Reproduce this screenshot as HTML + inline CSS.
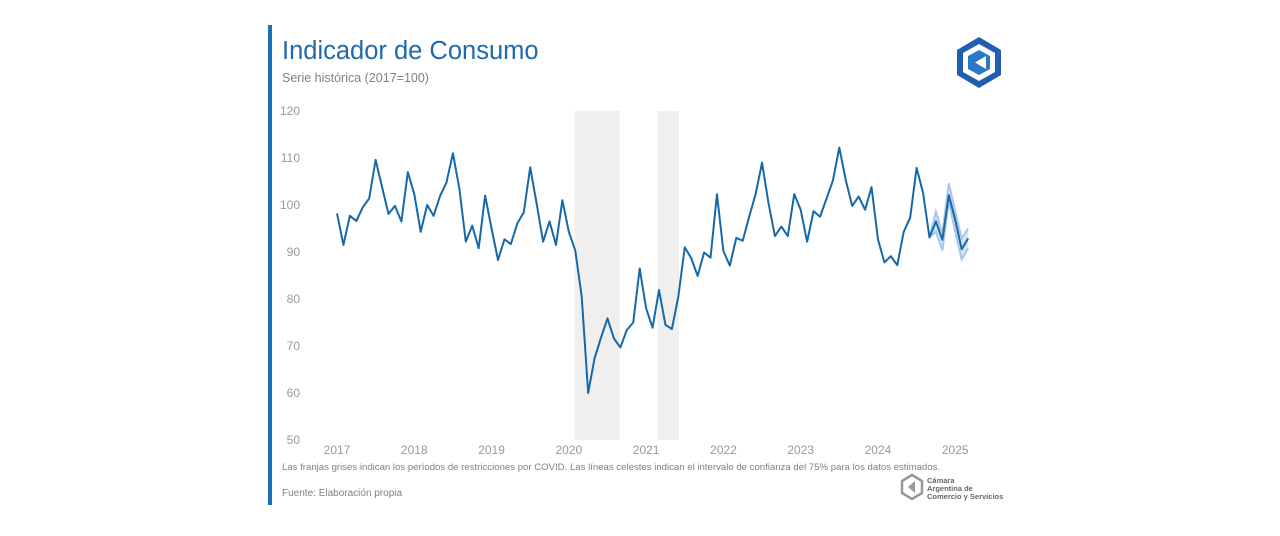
<!DOCTYPE html>
<html><head><meta charset="utf-8">
<style>
body{margin:0;background:#fff;width:1280px;height:531px;overflow:hidden;font-family:"Liberation Sans",sans-serif;}
svg text{font-family:"Liberation Sans",sans-serif;}
</style></head>
<body>
<svg width="1280" height="531" xmlns="http://www.w3.org/2000/svg">
<rect x="268" y="25" width="4" height="480" fill="#1f6fb8"/>
<text x="282" y="59" font-size="25.5" fill="#1d6aae">Indicador de Consumo</text>
<text x="282" y="82" font-size="12.5" fill="#808080">Serie histórica (2017=100)</text>
<g>
<polygon points="979,37 1001,50 1001,75 979,88 957,75 957,50" fill="#1f5fae"/>
<polygon points="979,44 995,53 995,72 979,81 963,72 963,53" fill="#fff"/>
<polygon points="979,50 990,56 990,69 979,75 968,69 968,56" fill="#2a78c8"/>
<polygon points="986,56 986,69 975,62.5" fill="#fff"/>
</g>
<g id="plot"></g>
<g id="yax"></g><g id="xax"></g>
<text x="282" y="470" font-size="9.6" fill="#808080">Las franjas grises indican los períodos de restricciones por COVID. Las líneas celestes indican el intervalo de confianza del 75% para los datos estimados.</text>
<text x="282" y="496" font-size="10" fill="#808080">Fuente: Elaboración propia</text>
<g>
<polygon points="912,475 922,481 922,493 912,499 902,493 902,481" fill="none" stroke="#999" stroke-width="2.5"/>
<polygon points="915,481 915,493 908,487" fill="#999"/>
<text x="927" y="483" font-size="7.5" font-weight="bold" fill="#666">Cámara</text>
<text x="927" y="491" font-size="7.5" font-weight="bold" fill="#666">Argentina de</text>
<text x="927" y="499" font-size="7.5" font-weight="bold" fill="#666">Comercio y Servicios</text>
</g>
</svg>
<script>
const years=[2017,2018,2019,2020,2021,2022,2023,2024,2025];
const yTicks=[50,60,70,80,90,100,110,120];
const values=[98.2,91.5,97.7,96.6,99.5,101.4,109.6,103.8,98.1,99.8,96.5,107,
102.3,94.3,100,97.7,101.9,104.8,111,103.5,92.2,95.6,90.8,102,
95,88.3,92.7,91.7,96.1,98.4,108,100.3,92.2,96.5,91.5,101,
94.3,90.3,80.5,60,67.4,71.8,75.9,71.6,69.7,73.4,75,86.5,
78,73.9,81.9,74.5,73.6,80.5,91,88.7,84.9,89.9,88.8,102.3,
90.2,87.1,93,92.4,97.5,102.3,109,100.4,93.4,95.4,93.4,102.3,
99,92.2,98.7,97.5,101.3,105.2,112.2,105.3,99.8,101.8,99,103.8,
92.7,87.8,89.1,87.2,94.3,97.3,107.9,102.6,93.1,96.5,92.6,102.1,
96.8,90.6,92.9];
const ciStart=92;
const ciUpper=[93.1,98.6,94,104.6,98.6,92.9,95];
const ciLower=[93.1,94.3,90.3,100.7,94.3,88.4,90.8];
const covidStart=[36.9,49.8];
const covidEnd=[43.9,53.1];

const NS="http://www.w3.org/2000/svg";
const x=m=>337+m*6.44;
const y=v=>205-(v-100)*4.7;
const plot=document.getElementById('plot');
function mk(t,a,p){const e=document.createElementNS(NS,t);for(const k in a)e.setAttribute(k,a[k]);(p||plot).appendChild(e);return e;}
covidStart.forEach((s,i)=>{
 const r=mk('rect',{x:x(s),y:111,width:x(covidEnd[i])-x(s),height:329,fill:'#efefef'});
 
 
});
const up=ciUpper.map((v,i)=>[x(ciStart+i),y(v)]), lo=ciLower.map((v,i)=>[x(ciStart+i),y(v)]);
const band=mk('polygon',{points:up.concat(lo.slice().reverse()).map(p=>p.join(',')).join(' '),fill:'#d6e4f5'});


[[up,'ci-upper-line'],[lo,'ci-lower-line']].forEach(([pts,n])=>{
 const l=mk('polyline',{points:pts.map(p=>p.join(',')).join(' '),fill:'none',stroke:'#a9c6ea','stroke-width':2});
 
 
});
const line=mk('polyline',{points:values.map((v,i)=>x(i)+','+y(v)).join(' '),fill:'none',stroke:'#1668a8','stroke-width':2,'stroke-linejoin':'round'});


const yax=document.getElementById('yax');
yTicks.forEach(t=>{
 const e=mk('text',{x:300,y:y(t)+4,'font-size':12,fill:'#999','text-anchor':'end'},yax);
 e.textContent=t;
 
 
});
const xax=document.getElementById('xax');
years.forEach((yr,i)=>{
 const e=mk('text',{x:x(i*12),y:454,'font-size':12,fill:'#999','text-anchor':'middle'},xax);
 e.textContent=yr;
 
 
});
</script>
</body></html>
